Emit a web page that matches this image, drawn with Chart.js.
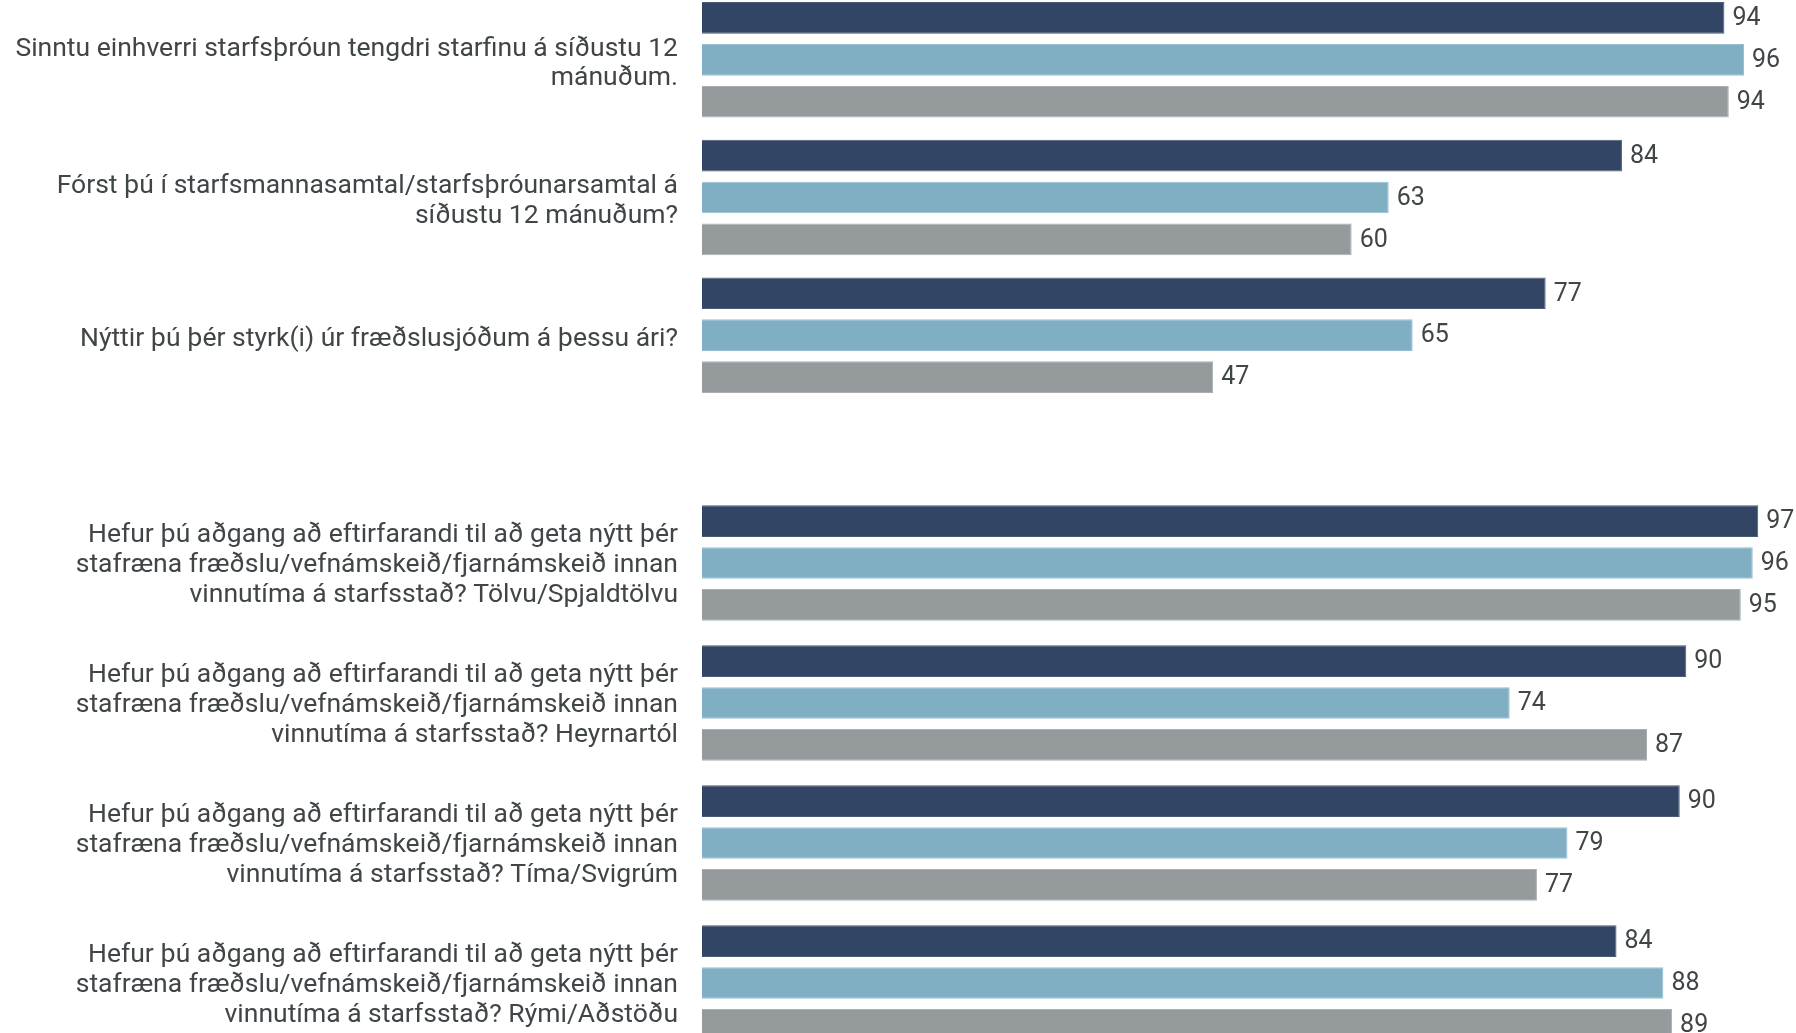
<!DOCTYPE html>
<html lang="is">
<head>
    <meta charset="UTF-8">
    <title>Starfsþróun</title>
    <script src="https://cdn.jsdelivr.net/npm/chart.js@4.4.1/dist/chart.umd.min.js"></script>
    <style>
        html, body {
            margin: 0;
            width: 1796px;
            height: 1033px;
            overflow: hidden;
            background: #fff;
        }
        canvas {
            position: absolute;
            left: 0;
        }
        #topChart { top: -9px; }
        #bottomChart { top: 493px; }
    </style>
</head>
<body>
<canvas id="topChart" width="1796" height="413"></canvas>
<canvas id="bottomChart" width="1796" height="560"></canvas>

<script>
    // top block
    const topLabels = [
        ['Sinntu einhverri starfsþróun tengdri starfinu á síðustu 12', 'mánuðum.'],
        ['Fórst þú í starfsmannasamtal/starfsþróunarsamtal á', 'síðustu 12 mánuðum?'],
        'Nýttir þú þér styrk(i) úr fræðslusjóðum á þessu ári?'
    ]
    // bar lengths, labels show them rounded
    const topSeries1 = [93.8, 84.4, 77.4]
    const topSeries2 = [95.6, 63.0, 65.2]
    const topSeries3 = [94.2, 59.6, 46.9]

    // bottom block
    const bottomLabels = [
        ['Hefur þú aðgang að eftirfarandi til að geta nýtt þér', 'stafræna fræðslu/vefnámskeið/fjarnámskeið innan', 'vinnutíma á starfsstað? Tölvu/Spjaldtölvu'],
        ['Hefur þú aðgang að eftirfarandi til að geta nýtt þér', 'stafræna fræðslu/vefnámskeið/fjarnámskeið innan', 'vinnutíma á starfsstað? Heyrnartól'],
        ['Hefur þú aðgang að eftirfarandi til að geta nýtt þér', 'stafræna fræðslu/vefnámskeið/fjarnámskeið innan', 'vinnutíma á starfsstað? Tíma/Svigrúm'],
        ['Hefur þú aðgang að eftirfarandi til að geta nýtt þér', 'stafræna fræðslu/vefnámskeið/fjarnámskeið innan', 'vinnutíma á starfsstað? Rými/Aðstöðu']
    ]
    const bottomSeries1 = [96.9, 90.3, 89.7, 83.9]
    const bottomSeries2 = [96.4, 74.1, 79.4, 88.2]
    const bottomSeries3 = [95.3, 86.7, 76.6, 89.0]

    const colors = ['#324565', '#80afc4', '#959b9d']
    const borders = ['#4a5b78', '#98bfd0', '#a9aeb0']
    const textColor = '#404548'

    // draws the number right after each bar
    const valueLabels = {
        id: 'valueLabels',
        afterDatasetsDraw(chart) {
            const ctx = chart.ctx
            ctx.save()
            ctx.font = '25px Roboto'
            ctx.fillStyle = textColor
            ctx.textAlign = 'left'
            ctx.textBaseline = 'middle'
            chart.data.datasets.forEach((ds, i) => {
                chart.getDatasetMeta(i).data.forEach((bar, j) => {
                    ctx.fillText(Math.round(ds.data[j]), bar.x + 8, bar.y + 1)
                })
            })
            ctx.restore()
        }
    }

    function makeChart(id, labels, s1, s2, s3, catPct, labelShift) {
        const sets = [s1, s2, s3].map((d, i) => ({
            data: d,
            backgroundColor: colors[i],
            borderColor: borders[i],
            borderWidth: 1,
            categoryPercentage: catPct,
            barPercentage: 0.755
        }))
        return new Chart(document.getElementById(id), {
            type: 'bar',
            data: {labels, datasets: sets},
            plugins: [valueLabels],
            options: {
                indexAxis: 'y',
                responsive: false,
                animation: false,
                layout: {padding: {left: 0, right: 4, top: 0, bottom: 0}},
                plugins: {
                    legend: {display: false},
                    tooltip: {enabled: false}
                },
                scales: {
                    x: {
                        display: false,
                        min: 0,
                        max: 100
                    },
                    y: {
                        grid: {display: false, drawTicks: false},
                        border: {display: false},
                        ticks: {
                            color: textColor,
                            padding: 24,
                            labelOffset: labelShift,
                            font: {family: 'Roboto', size: 26.5, lineHeight: 1.125}
                        },
                        afterFit(scale) {
                            scale.width = 702
                            scale.paddingTop = 0
                            scale.paddingBottom = 0
                        }
                    }
                }
            }
        })
    }

    makeChart('topChart', topLabels, topSeries1, topSeries2, topSeries3, 0.913, 4)
    makeChart('bottomChart', bottomLabels, bottomSeries1, bottomSeries2, bottomSeries3, 0.898, 2.5)
</script>
</body>
</html>
